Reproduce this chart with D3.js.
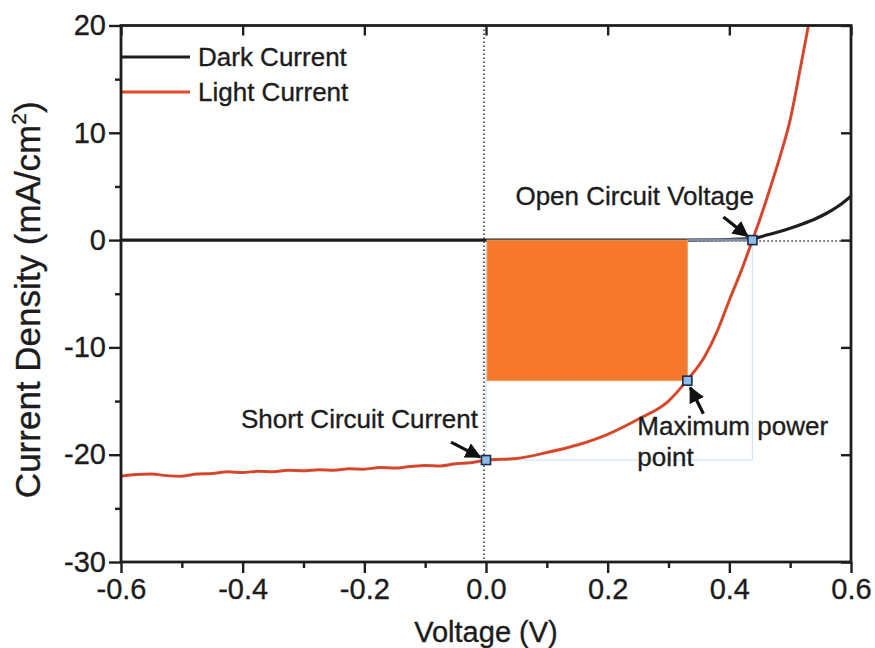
<!DOCTYPE html>
<html>
<head>
<meta charset="utf-8">
<script src="https://cdn.jsdelivr.net/npm/d3@7"></script>
<style>
  html, body { margin: 0; padding: 0; background: #fff; }
  svg { display: block; }
  text { font-family: "Liberation Sans", Arial, sans-serif; fill: #1c1c1c; stroke: #1c1c1c; stroke-width: 0.35px; }
</style>
</head>
<body>
<svg id="chart" width="875" height="648"></svg>
<script>
// J–V curves of a solar cell, dark and illuminated
const lightV = [-0.6, -0.575, -0.55, -0.525, -0.5, -0.475, -0.45, -0.425, -0.4, -0.375, -0.35, -0.325,
  -0.3, -0.275, -0.25, -0.225, -0.2, -0.175, -0.15, -0.125, -0.1, -0.075, -0.05, -0.025, 0,
  0.05, 0.1, 0.15, 0.2, 0.25, 0.3, 0.33, 0.36, 0.38, 0.4, 0.42, 0.438, 0.45, 0.468, 0.485, 0.5, 0.515, 0.53];
const lightJ = [-22.0, -21.85, -21.8, -21.95, -22.0, -21.8, -21.75, -21.6, -21.65, -21.55, -21.6, -21.45,
  -21.5, -21.4, -21.45, -21.3, -21.35, -21.2, -21.25, -21.1, -21.0, -21.05, -20.85, -20.75, -20.5,
  -20.35, -19.8, -19.1, -18.1, -16.7, -15.0, -13.1, -10.8, -8.5, -5.6, -2.8, 0, 1.9, 5.0, 8.1, 11.2, 15.5, 20];

const darkV = [-0.6, 0.0, 0.33, 0.44, 0.46, 0.48, 0.5, 0.52, 0.54, 0.56, 0.58, 0.6];
const darkJ = [0, 0, 0, 0.15, 0.45, 0.75, 1.1, 1.5, 1.95, 2.5, 3.2, 4.1];

// Characteristic points: short circuit, maximum power, open circuit
const keyNames = ["Short Circuit Current", "Maximum power", "point", "Open Circuit Voltage"];
const keyV = [0, 0.331, 0.438];
const keyJ = [-20.5, -13.1, 0];

const xTicks = [-0.6, -0.4, -0.2, 0.0, 0.2, 0.4, 0.6];
const xMinor = [-0.5, -0.3, -0.1, 0.1, 0.3, 0.5];
const yTicks = [-30, -20, -10, 0, 10, 20];
const yMinor = [-25, -15, -5, 5, 15];

const seriesNames = ["Dark Current", "Light Current"];
const seriesColors = ["#1e1e1e", "#e8492b"];

const svg = d3.select("#chart");
const L = 121, R = 851, T = 25.5, B = 562;
const x = d3.scaleLinear().domain([-0.6, 0.6]).range([L, R]);
const y = d3.scaleLinear().domain([-30, 20]).range([B, T]);

const defs = svg.append("defs");
defs.append("clipPath").attr("id", "plot")
  .append("rect").attr("x", L).attr("y", T).attr("width", R - L).attr("height", B - T);

const plot = svg.append("g").attr("clip-path", "url(#plot)");

const Jsc = keyJ[0], Vmp = keyV[1], Jmp = keyJ[1], Voc = keyV[2];

// Voc x Jsc box (thin light blue)
plot.append("rect")
  .attr("x", x(0)).attr("y", y(0))
  .attr("width", x(Voc) - x(0)).attr("height", y(Jsc) - y(0))
  .attr("fill", "none").attr("stroke", "#cfe4f4").attr("stroke-width", 1.2);

// dotted guide lines
plot.append("line")
  .attr("x1", x(0) - 2).attr("x2", x(0) - 2).attr("y1", T).attr("y2", B)
  .attr("stroke", "#333").attr("stroke-width", 1.5).attr("stroke-dasharray", "1.5,2.5");
plot.append("line")
  .attr("x1", x(Vmp)).attr("x2", R).attr("y1", y(0) + 1).attr("y2", y(0) + 1)
  .attr("stroke", "#333").attr("stroke-width", 1.5).attr("stroke-dasharray", "1.5,2.5");

const line = d3.line().curve(d3.curveMonotoneX);

// dark current
plot.append("path")
  .attr("d", line(darkV.map((v, i) => [x(v), y(darkJ[i])])))
  .attr("fill", "none").attr("stroke", seriesColors[0]).attr("stroke-width", 3.2);

// segment of the box top between Vmp and Voc
plot.append("line")
  .attr("x1", x(Vmp)).attr("x2", x(Voc)).attr("y1", y(0)).attr("y2", y(0))
  .attr("stroke", "#7d8fa6").attr("stroke-width", 3);

// maximum power rectangle
plot.append("rect")
  .attr("x", x(0) + 1).attr("y", y(0))
  .attr("width", x(Vmp) - x(0) - 1).attr("height", y(Jmp) - y(0))
  .attr("fill", "#f5782c").attr("stroke", "#e9a060").attr("stroke-width", 1);

// light current
const lightPath = line(lightV.map((v, i) => [x(v), y(lightJ[i])]));
plot.append("path").attr("d", lightPath)
  .attr("fill", "none").attr("stroke", seriesColors[1]).attr("stroke-width", 3);
plot.append("path").attr("d", lightPath)
  .attr("fill", "none").attr("stroke", "#5a4a48").attr("stroke-width", 0.8).attr("opacity", 0.45);

// arrows
defs.append("marker").attr("id", "head")
  .attr("viewBox", "0 0 10 10").attr("refX", 9).attr("refY", 5)
  .attr("markerWidth", 5).attr("markerHeight", 5).attr("orient", "auto")
  .append("path").attr("d", "M0,0 L10,5 L0,10 z").attr("fill", "#111");

const arrowOffsets = [[-35, -18, -6, -3], [16, 33, 3, 7], [-29, -23, -5, -4]];
keyV.forEach((v, i) => {
  const o = arrowOffsets[i];
  svg.append("line")
    .attr("x1", x(v) + o[0]).attr("y1", y(keyJ[i]) + o[1])
    .attr("x2", x(v) + o[2]).attr("y2", y(keyJ[i]) + o[3])
    .attr("stroke", "#111").attr("stroke-width", 3.2)
    .attr("marker-end", "url(#head)");
});

// markers
svg.selectAll("rect.key").data(keyV).join("rect").attr("class", "key")
  .attr("x", (d) => x(d) - 4.5).attr("y", (d, i) => y(keyJ[i]) - 4.5)
  .attr("width", 9).attr("height", 9)
  .attr("fill", "#8cbde8").attr("stroke", "#1c2a48").attr("stroke-width", 1.6);

// annotations
const fs = 26;
svg.append("text").attr("x", x(0) - 245).attr("y", y(Jsc) - 32)
  .attr("font-size", fs).text(keyNames[0]);
svg.append("text").attr("x", x(Vmp) - 50).attr("y", y(Jmp) + 54)
  .attr("font-size", fs).text(keyNames[1]);
svg.append("text").attr("x", x(Vmp) - 50).attr("y", y(Jmp) + 85)
  .attr("font-size", fs).text(keyNames[2]);
svg.append("text").attr("x", x(Voc) - 237).attr("y", y(0) - 35)
  .attr("font-size", fs).text(keyNames[3]);

// legend
const legendY = [57, 92];
seriesNames.forEach((n, i) => {
  svg.append("line").attr("x1", L + 1).attr("x2", 190)
    .attr("y1", legendY[i]).attr("y2", legendY[i])
    .attr("stroke", seriesColors[i]).attr("stroke-width", i === 0 ? 3.2 : 3);
  svg.append("text").attr("x", 198).attr("y", legendY[i] + 9)
    .attr("font-size", fs).text(n);
});

// axes
const hyphen = (f) => (d) => f(d).replace("\u2212", "-");
const axisStyle = (g) => {
  g.selectAll(".domain").remove();
  g.selectAll("line").attr("stroke", "#1e1e1e").attr("stroke-width", 2.4);
  g.selectAll("text").attr("font-size", 29).attr("fill", "#1c1c1c")
    .attr("font-family", "'Liberation Sans', Arial, sans-serif");
};

svg.append("g").attr("transform", `translate(0,${B})`)
  .call(d3.axisBottom(x).tickValues(xMinor).tickSize(6).tickFormat(""))
  .call(axisStyle);
svg.append("g").attr("transform", `translate(0,${B})`)
  .call(d3.axisBottom(x).tickValues(xTicks).tickSize(11).tickPadding(5).tickFormat(hyphen(d3.format(".1f"))))
  .call(axisStyle);
svg.append("g").attr("transform", `translate(0,${T})`)
  .call(d3.axisBottom(x).tickValues(xTicks).tickSize(10).tickFormat(""))
  .call(axisStyle);

svg.append("g").attr("transform", `translate(${L},0)`)
  .call(d3.axisLeft(y).tickValues(yMinor).tickSize(6).tickFormat(""))
  .call(axisStyle);
svg.append("g").attr("transform", `translate(${L},0)`)
  .call(d3.axisLeft(y).tickValues(yTicks).tickSize(12).tickPadding(3).tickFormat(hyphen(d3.format("d"))))
  .call(axisStyle);
svg.append("g").attr("transform", `translate(${R},0)`)
  .call(d3.axisLeft(y).tickValues(yTicks).tickSize(10).tickFormat(""))
  .call(axisStyle);

// frame
svg.append("rect").attr("x", L).attr("y", T).attr("width", R - L).attr("height", B - T)
  .attr("fill", "none").attr("stroke", "#1e1e1e").attr("stroke-width", 2.8);

// axis titles
svg.append("text").attr("x", (L + R) / 2).attr("y", 642)
  .attr("text-anchor", "middle").attr("font-size", 29).text("Voltage (V)");
const yt = svg.append("text")
  .attr("transform", `translate(40,${(T + B) / 2 + 6}) rotate(-90)`)
  .attr("text-anchor", "middle").attr("font-size", 35);
yt.append("tspan").text("Current Density (mA/cm");
yt.append("tspan").attr("font-size", 21).attr("dy", -14).text("2");
yt.append("tspan").attr("dy", 14).text(")");
</script>
</body>
</html>
